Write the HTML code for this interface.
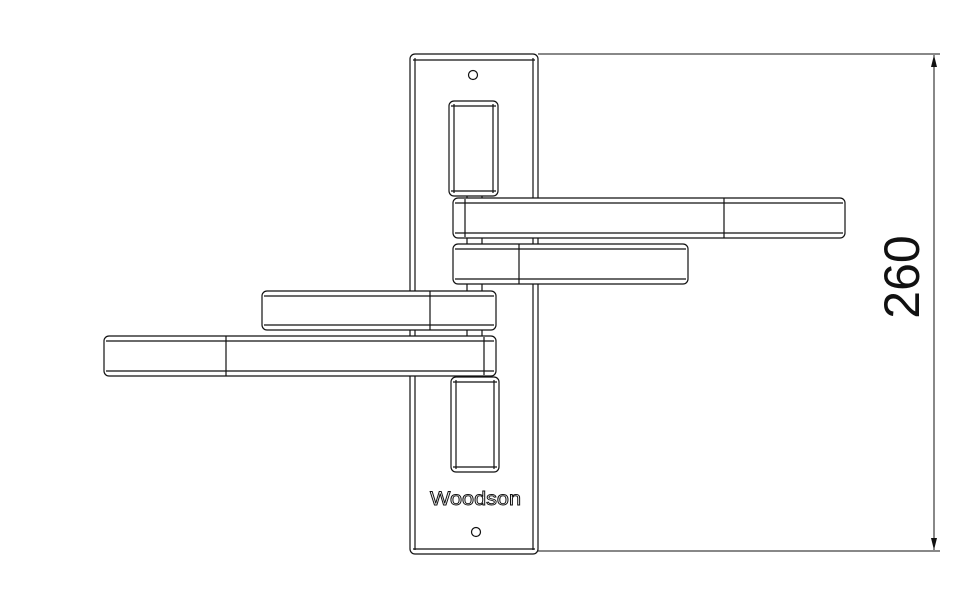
<!DOCTYPE html>
<html><head><style>html,body{margin:0;padding:0;background:#fff}svg{display:block}</style></head>
<body>
<svg width="980" height="592" viewBox="0 0 980 592" xmlns="http://www.w3.org/2000/svg" fill="none" stroke="#111" stroke-width="1.2">
<!-- dimension -->
<line x1="538" y1="54" x2="940" y2="54" stroke-width="1"/>
<line x1="538" y1="551" x2="940" y2="551" stroke-width="1"/>
<line x1="934" y1="55" x2="934" y2="550" stroke-width="1"/>
<path d="M934,55 L931,67 L937,67 Z M934,550 L931,538 L937,538 Z" fill="#111" stroke="none"/>
<text x="0" y="0" transform="translate(919,277) rotate(-90)" text-anchor="middle" font-family="Liberation Sans, sans-serif" font-size="50" fill="#111" stroke="none">260</text>
<!-- plate -->
<rect x="410" y="54" width="128" height="500" rx="5" fill="#fff"/>
<line x1="415" y1="58" x2="415" y2="550"/>
<line x1="533" y1="58" x2="533" y2="550"/>
<line x1="413" y1="60" x2="535" y2="60"/>
<line x1="413" y1="549" x2="535" y2="549"/>
<circle cx="473" cy="75" r="4.5"/>
<circle cx="476" cy="532" r="4.5"/>
<!-- stems -->
<line x1="467" y1="190" x2="467" y2="380"/>
<line x1="482" y1="190" x2="482" y2="380"/>
<!-- slots -->
<rect x="449" y="101" width="49" height="95" rx="5" fill="#fff"/>
<line x1="454" y1="104" x2="454" y2="193"/><line x1="493" y1="104" x2="493" y2="193"/>
<line x1="451" y1="106" x2="496" y2="106"/><line x1="451" y1="191" x2="496" y2="191"/>
<rect x="451" y="377" width="48" height="95" rx="5" fill="#fff"/>
<line x1="456" y1="380" x2="456" y2="469"/><line x1="494" y1="380" x2="494" y2="469"/>
<line x1="453" y1="382" x2="497" y2="382"/><line x1="453" y1="467" x2="497" y2="467"/>
<!-- handle 1 -->
<rect x="453" y="198" width="392" height="40" rx="5" fill="#fff"/>
<line x1="455" y1="203" x2="843" y2="203"/><line x1="455" y1="233" x2="843" y2="233"/>
<line x1="465" y1="199" x2="465" y2="237"/><line x1="724" y1="198" x2="724" y2="238"/>
<!-- handle 2 -->
<rect x="453" y="244" width="235" height="40" rx="5" fill="#fff"/>
<line x1="455" y1="249" x2="686" y2="249"/><line x1="455" y1="279" x2="686" y2="279"/>
<line x1="519" y1="244" x2="519" y2="284"/>
<!-- handle 3 -->
<rect x="262" y="291" width="234" height="39" rx="5" fill="#fff"/>
<line x1="264" y1="296" x2="494" y2="296"/><line x1="264" y1="325" x2="494" y2="325"/>
<line x1="430" y1="291" x2="430" y2="330"/>
<!-- handle 4 -->
<rect x="104" y="336" width="392" height="40" rx="5" fill="#fff"/>
<line x1="106" y1="341" x2="494" y2="341"/><line x1="106" y1="371" x2="494" y2="371"/>
<line x1="226" y1="336" x2="226" y2="376"/><line x1="484" y1="337" x2="484" y2="375"/>
<!-- brand -->
<text x="430" y="505" textLength="91" lengthAdjust="spacingAndGlyphs" font-family="Liberation Sans, sans-serif" font-size="19" fill="#fff" stroke="#111" stroke-width="0.9">Woodson</text>
</svg>
</body></html>
